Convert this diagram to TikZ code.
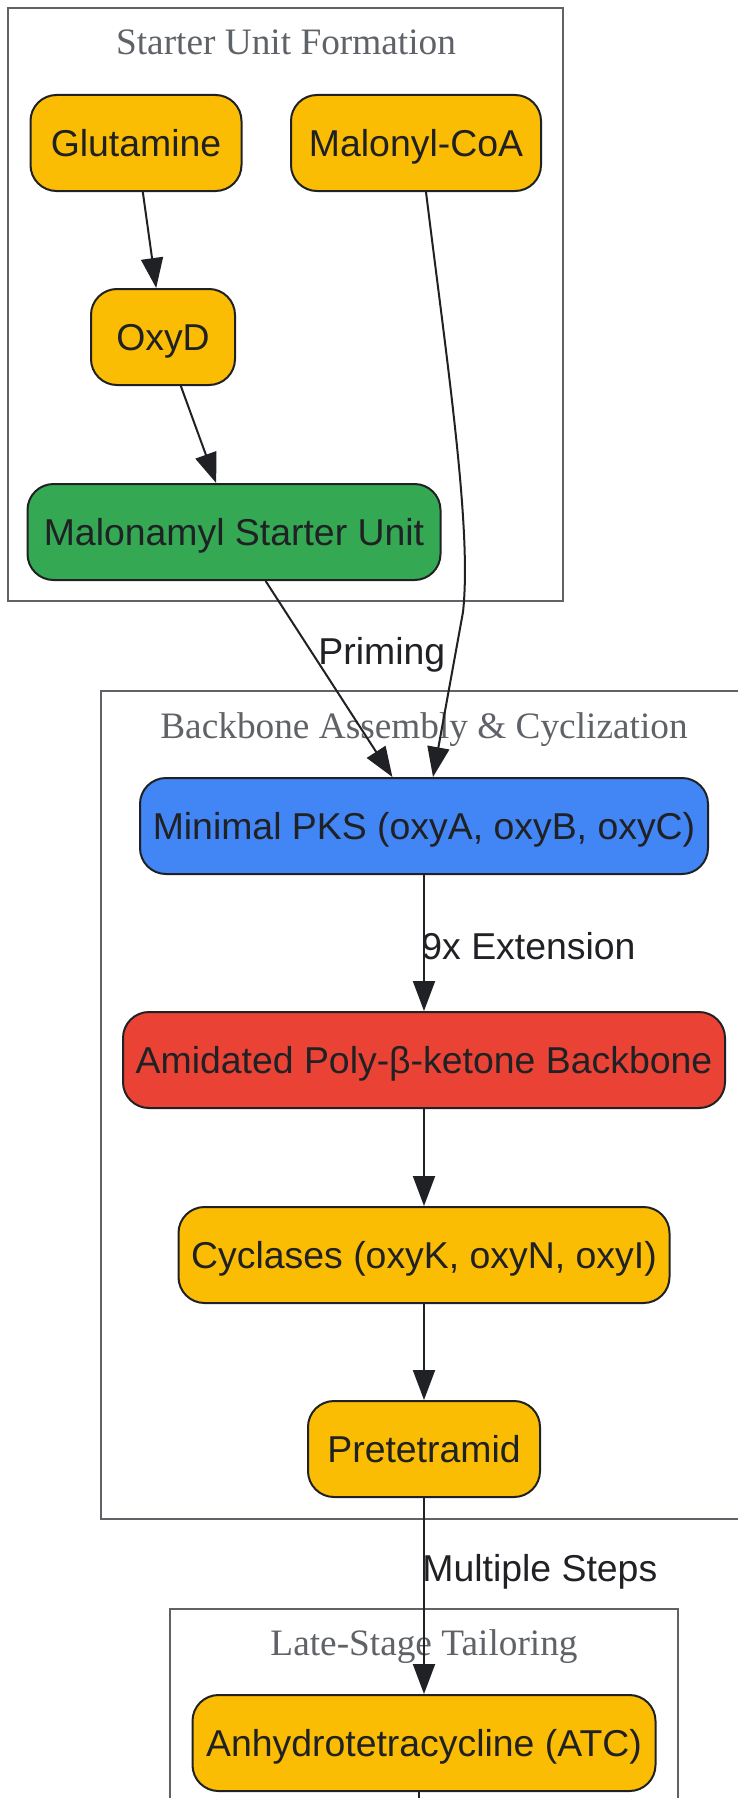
\documentclass[tikz,border=0pt]{standalone}
\usepackage{fontspec}
\setmainfont{Liberation Serif}
\newfontfamily\boxfont{Liberation Sans}
\usetikzlibrary{arrows.meta}
\definecolor{ink}{HTML}{202124}
\definecolor{framegrey}{HTML}{5F6368}
\definecolor{gyellow}{HTML}{FBBC04}
\definecolor{ggreen}{HTML}{34A853}
\definecolor{gblue}{HTML}{4285F4}
\definecolor{gred}{HTML}{EA4335}
\begin{document}
\begin{tikzpicture}[x=0.5pt,y=-0.5pt,
    box/.style={draw=ink,line width=1pt,rounded corners=13pt,text=ink,
      font=\boxfont\fontsize{18.7}{22}\selectfont,minimum height=48pt,inner sep=0pt,
      text height=13.4pt,text depth=0pt},
    cluster/.style={draw=framegrey,line width=1pt},
    clustertitle/.style={text=framegrey,font=\fontsize{18.65}{22}\selectfont,
      text height=12.3pt,text depth=0pt,inner sep=0pt},
    edge/.style={draw=ink,line width=1pt,-{Triangle[length=15pt,width=11pt]}},
    lbl/.style={text=ink,font=\boxfont\fontsize{18.7}{22}\selectfont,inner sep=0pt,
      text height=13.4pt,text depth=0pt}]
    \clip (0,0) rectangle (738,1798);
    \fill[white] (0,0) rectangle (738,1798);

    % subgraphs
    \draw[cluster] (8,8) rectangle (563,601);
    \draw[cluster] (101,691) rectangle (747,1519);
    \draw[cluster] (170,1609) rectangle (678,1850);
    \node[clustertitle] (tstart) at (286,42) {Starter Unit Formation};
    \node[clustertitle] (tback) at (424,726) {Backbone Assembly \& Cyclization};
    \node[clustertitle] (tlate) at (424,1643) {Late-Stage Tailoring};

    % nodes
    \node[box,fill=gyellow,minimum width=105.5pt] (glut) at (136,143) {Glutamine};
    \node[box,fill=gyellow,minimum width=125pt] (malo) at (416,143) {Malonyl-CoA};
    \node[box,fill=gyellow,minimum width=72pt] (oxyd) at (163,337) {OxyD};
    \node[box,fill=ggreen,minimum width=206.5pt] (start) at (234,532) {Malonamyl Starter Unit};
    \node[box,fill=gblue,minimum width=284pt] (pks) at (424,826) {Minimal PKS (oxyA, oxyB, oxyC)};
    \node[box,fill=gred,minimum width=301pt] (poly) at (424,1060) {Amidated Poly-β-ketone Backbone};
    \node[box,fill=gyellow,minimum width=245.5pt] (cyc) at (424,1255) {Cyclases (oxyK, oxyN, oxyI)};
    \node[box,fill=gyellow,minimum width=116pt] (pre) at (424,1449) {Pretetramid};
    \node[box,fill=gyellow,minimum width=231.5pt] (atc) at (424,1743) {Anhydrotetracycline (ATC)};
    \coordinate (bend) at (463,612);
    \coordinate (atcout) at (419,1840);

    % edges
    \draw[edge] (glut) -- (oxyd);
    \draw[edge] (oxyd) -- (start);
    \draw[edge] (start) -- (pks);
    \draw[edge] ([xshift=5pt]malo.south) .. controls (448,370) and (472,530) .. (bend)
      -- ([xshift=4.5pt]pks.north);
    \draw[edge] (pks) -- (poly);
    \draw[edge] (poly) -- (cyc);
    \draw[edge] (cyc) -- (pre);
    \draw[edge] (pre) -- (atc);
    \draw[draw=ink,line width=1pt] ([xshift=-2.5pt]atc.south) -- (atcout);

    % edge labels
    \node[lbl,anchor=west] (lprime) at (318,651) {Priming};
    \node[lbl,anchor=west] (lext) at (421,946) {9x Extension};
    \node[lbl,anchor=west] (lsteps) at (422,1568) {Multiple Steps};
\end{tikzpicture}
\end{document}
